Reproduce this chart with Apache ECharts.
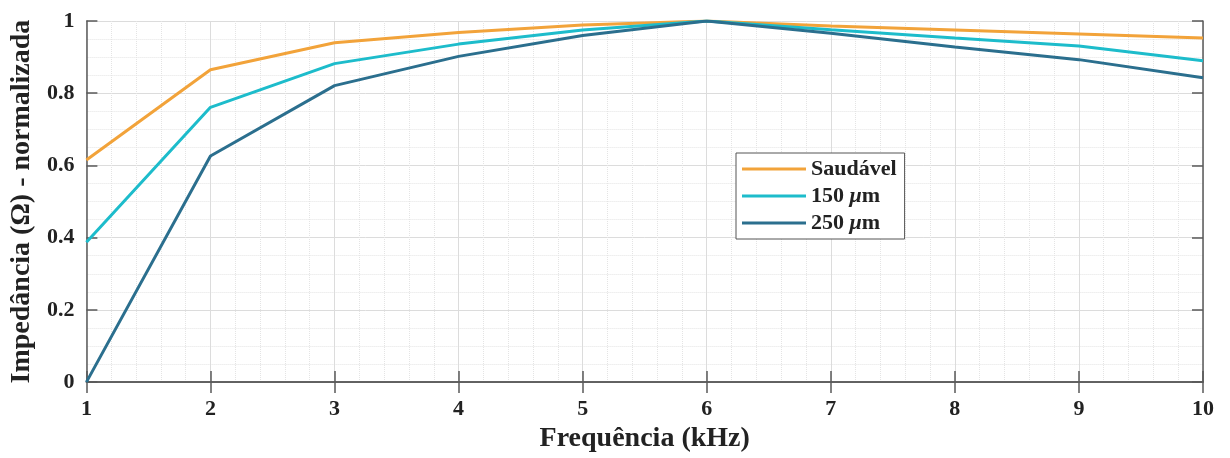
<!DOCTYPE html>
<html>
<head>
<meta charset="utf-8">
<script src="https://cdn.jsdelivr.net/npm/echarts@6/dist/echarts.min.js"></script>
<style>
  html, body { margin: 0; padding: 0; background: #fff; }
  #chart { width: 1230px; height: 458px; }
</style>
</head>
<body>
<div id="chart"></div>
<script>
// Frequencies (kHz) and normalized impedance for each condition
const frequencies = [1, 2, 3, 4, 5, 6, 7, 8, 9, 10];
const saudavel = [0.615, 0.865, 0.940, 0.968, 0.989, 1.000, 0.986, 0.975, 0.964, 0.953];
const um150    = [0.387, 0.761, 0.882, 0.936, 0.975, 1.000, 0.976, 0.953, 0.931, 0.890];
const um250    = [0.000, 0.626, 0.821, 0.902, 0.960, 1.000, 0.966, 0.928, 0.893, 0.843];
const seriesNames = ['Saudável', '150 μm', '250 μm'];
const seriesColors = ['#F2A33A', '#1DBCCB', '#2B6F8E'];

const FONT = '"Liberation Serif", "Times New Roman", serif';
const TEXT = '#222222';

function pairs(values) {
  return frequencies.map((f, i) => [f, values[i]]);
}

const chart = echarts.init(document.getElementById('chart'), null, { renderer: 'canvas' });

const gridLine = { show: true, lineStyle: { color: '#dcdcdc', width: 1 } };
const minorLine = { show: true, lineStyle: { color: '#e4e4e4', width: 1, type: [1, 1] } };
const axisLine = { show: true, lineStyle: { color: '#5a5a5a', width: 1.5 } };
const tick = { show: true, inside: true, length: 11, lineStyle: { color: '#5a5a5a', width: 1.5 } };

chart.setOption({
  animation: false,
  backgroundColor: '#ffffff',
  grid: { left: 85, right: 27, top: 21, bottom: 73, containLabel: false },
  legend: {
    orient: 'vertical',
    left: 736,
    top: 153,
    width: 172,
    padding: [5, 8, 5, 6],
    backgroundColor: '#ffffff',
    borderColor: '#555555',
    borderWidth: 1,
    itemGap: 5,
    itemWidth: 64,
    itemHeight: 3,
    icon: 'rect',
    data: seriesNames,
    formatter: function (name) {
      return name.replace('μ', '{i|μ}');
    },
    textStyle: {
      fontFamily: FONT,
      fontWeight: 'bold',
      fontSize: 22,
      lineHeight: 22,
      color: TEXT,
      rich: {
        i: { fontFamily: FONT, fontWeight: 'bold', fontStyle: 'italic', fontSize: 22, lineHeight: 22, color: TEXT }
      }
    }
  },
  xAxis: [
    {
      type: 'value',
      min: 1, max: 10, interval: 1,
      name: 'Frequência (kHz)',
      nameLocation: 'middle',
      nameGap: 41,
      nameTextStyle: { fontFamily: FONT, fontWeight: 'bold', fontSize: 28, color: TEXT },
      axisLine: axisLine,
      axisTick: tick,
      axisLabel: { fontFamily: FONT, fontWeight: 'bold', fontSize: 22, color: TEXT, margin: 16 },
      splitLine: gridLine,
      minorTick: { show: false, splitNumber: 5 },
      minorSplitLine: minorLine
    },
    {
      type: 'value',
      position: 'top',
      min: 1, max: 10, interval: 1,
      axisLine: axisLine,
      axisTick: tick,
      axisLabel: { show: false },
      splitLine: { show: false }
    }
  ],
  yAxis: [
    {
      type: 'value',
      min: 0, max: 1, interval: 0.2,
      name: 'Impedância (Ω) - normalizada',
      nameLocation: 'middle',
      nameGap: 47,
      nameTextStyle: { fontFamily: FONT, fontWeight: 'bold', fontSize: 28, color: TEXT },
      axisLine: axisLine,
      axisTick: tick,
      axisLabel: { fontFamily: FONT, fontWeight: 'bold', fontSize: 22, color: TEXT, margin: 12 },
      splitLine: gridLine,
      minorTick: { show: false, splitNumber: 4 },
      minorSplitLine: minorLine
    },
    {
      type: 'value',
      position: 'right',
      min: 0, max: 1, interval: 0.2,
      axisLine: axisLine,
      axisTick: tick,
      axisLabel: { show: false },
      splitLine: { show: false }
    }
  ],
  series: [saudavel, um150, um250].map((vals, k) => ({
    name: seriesNames[k],
    type: 'line',
    data: pairs(vals),
    showSymbol: false,
    symbol: 'none',
    color: seriesColors[k],
    lineStyle: { color: seriesColors[k], width: 3 },
    z: 3 + k
  }))
});
</script>
</body>
</html>
